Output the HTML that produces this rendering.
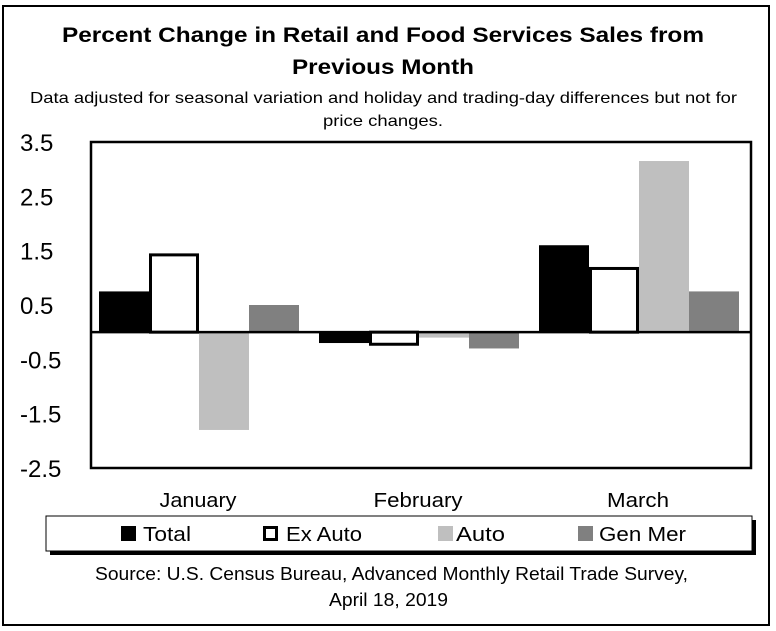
<!DOCTYPE html>
<html><head><meta charset="utf-8"><style>
html,body{margin:0;padding:0;background:#fff;width:776px;height:631px;overflow:hidden}
svg{display:block}
text{font-family:"Liberation Sans",sans-serif}
</style></head><body>
<svg id="chart" width="776" height="631">
<rect x="3" y="6" width="766" height="619" fill="none" stroke="#000" stroke-width="2"/>
<text x="62" y="42" textLength="642" lengthAdjust="spacingAndGlyphs" font-size="21" font-weight="bold">Percent Change in Retail and Food Services Sales from</text>
<text x="292" y="74" textLength="182" lengthAdjust="spacingAndGlyphs" font-size="21" font-weight="bold">Previous Month</text>
<text x="30" y="103" textLength="707" lengthAdjust="spacingAndGlyphs" font-size="16">Data adjusted for seasonal variation and holiday and trading-day differences but not for</text>
<text x="323" y="126" textLength="120" lengthAdjust="spacingAndGlyphs" font-size="16">price changes.</text>
<g id="bars"></g>
<rect x="91" y="142" width="660" height="326" fill="none" stroke="#000" stroke-width="2.5"/>
<g id="yaxis"></g>
<g id="xaxis"></g>
<rect x="50" y="520" width="706" height="35" fill="#000"/>
<rect x="46" y="516" width="706" height="35" fill="#fff" stroke="#000" stroke-width="1"/>
<g id="legend"></g>
<text x="95" y="580" textLength="593" lengthAdjust="spacingAndGlyphs" font-size="18">Source: U.S. Census Bureau, Advanced Monthly Retail Trade Survey,</text>
<text x="329" y="606" textLength="119" lengthAdjust="spacingAndGlyphs" font-size="18">April 18, 2019</text>
</svg>
<script>
const categories = ["January","February","March"];
const seriesNames = ["Total","Ex Auto","Auto","Gen Mer"];
const totalVals = [0.75, -0.2, 1.6];
const exAutoVals = [1.45, -0.25, 1.2];
const autoVals = [-1.8, -0.1, 3.15];
const genMerVals = [0.5, -0.3, 0.75];
const yTicks = [3.5, 2.5, 1.5, 0.5, -0.5, -1.5, -2.5];

const NS="http://www.w3.org/2000/svg";
const X0=91, X1=751, Y0=142, Y1=468, YMAX=3.5, YMIN=-2.5;
const y = v => Y0 + (YMAX - v) / (YMAX - YMIN) * (Y1 - Y0);
const gw = (X1 - X0) / categories.length;
const bw = 50;
const x = (ci, si) => X0 + ci * gw + 8 + si * bw;
const series = [totalVals, exAutoVals, autoVals, genMerVals];
const fills = ["#000","#fff","#bfbfbf","#808080"];
const strokes = ["none","#000","none","none"];
function mk(tag, attrs, parent){const e=document.createElementNS(NS,tag);for(const k in attrs)e.setAttribute(k,attrs[k]);parent.appendChild(e);return e;}
const gb=document.getElementById('bars');
series.forEach((vals,si)=>{vals.forEach((v,ci)=>{
  const top=Math.min(y(v),y(0)), h=Math.abs(y(v)-y(0));
  const sw = si===1?3:0;
  const r=mk('rect',{x:x(ci,si)+sw/2,y:top+(v>=0?sw/2:0),width:bw-sw,height:Math.max(0,h-sw/2),fill:fills[si],stroke:strokes[si],'stroke-width':sw},gb);
  
  
});});
const zl=mk('line',{x1:X0,x2:X1,y1:y(0),y2:y(0),stroke:'#000','stroke-width':2.5},gb);


const gy=document.getElementById('yaxis');
yTicks.forEach(t=>{
  const tx=mk('text',{x:20,y:y(t)+9,'font-size':24},gy);tx.textContent=t.toFixed(1);
  
  
});
const gx=document.getElementById('xaxis');
const xlabW=[77,89,62];
categories.forEach((c,ci)=>{
  const tx=mk('text',{x:X0+ci*gw+gw/2-3,y:507,'font-size':20,'text-anchor':'middle',textLength:xlabW[ci],lengthAdjust:'spacingAndGlyphs'},gx);tx.textContent=c;
  
  
});
const gl=document.getElementById('legend');
const lx=[121,263,438,578];
const ltx=[143,286,456,599];
const ltw=[48,76,49,87];
seriesNames.forEach((n,i)=>{
  const sw=i===1?3:0;
  const r=mk('rect',{x:lx[i]+sw/2,y:526+sw/2,width:15-sw,height:15-sw,fill:fills[i],stroke:strokes[i],'stroke-width':sw},gl);
  
  
  const t=mk('text',{x:ltx[i],y:541,'font-size':20,textLength:ltw[i],lengthAdjust:'spacingAndGlyphs'},gl);t.textContent=n;
  
  
});
</script>
</body></html>
